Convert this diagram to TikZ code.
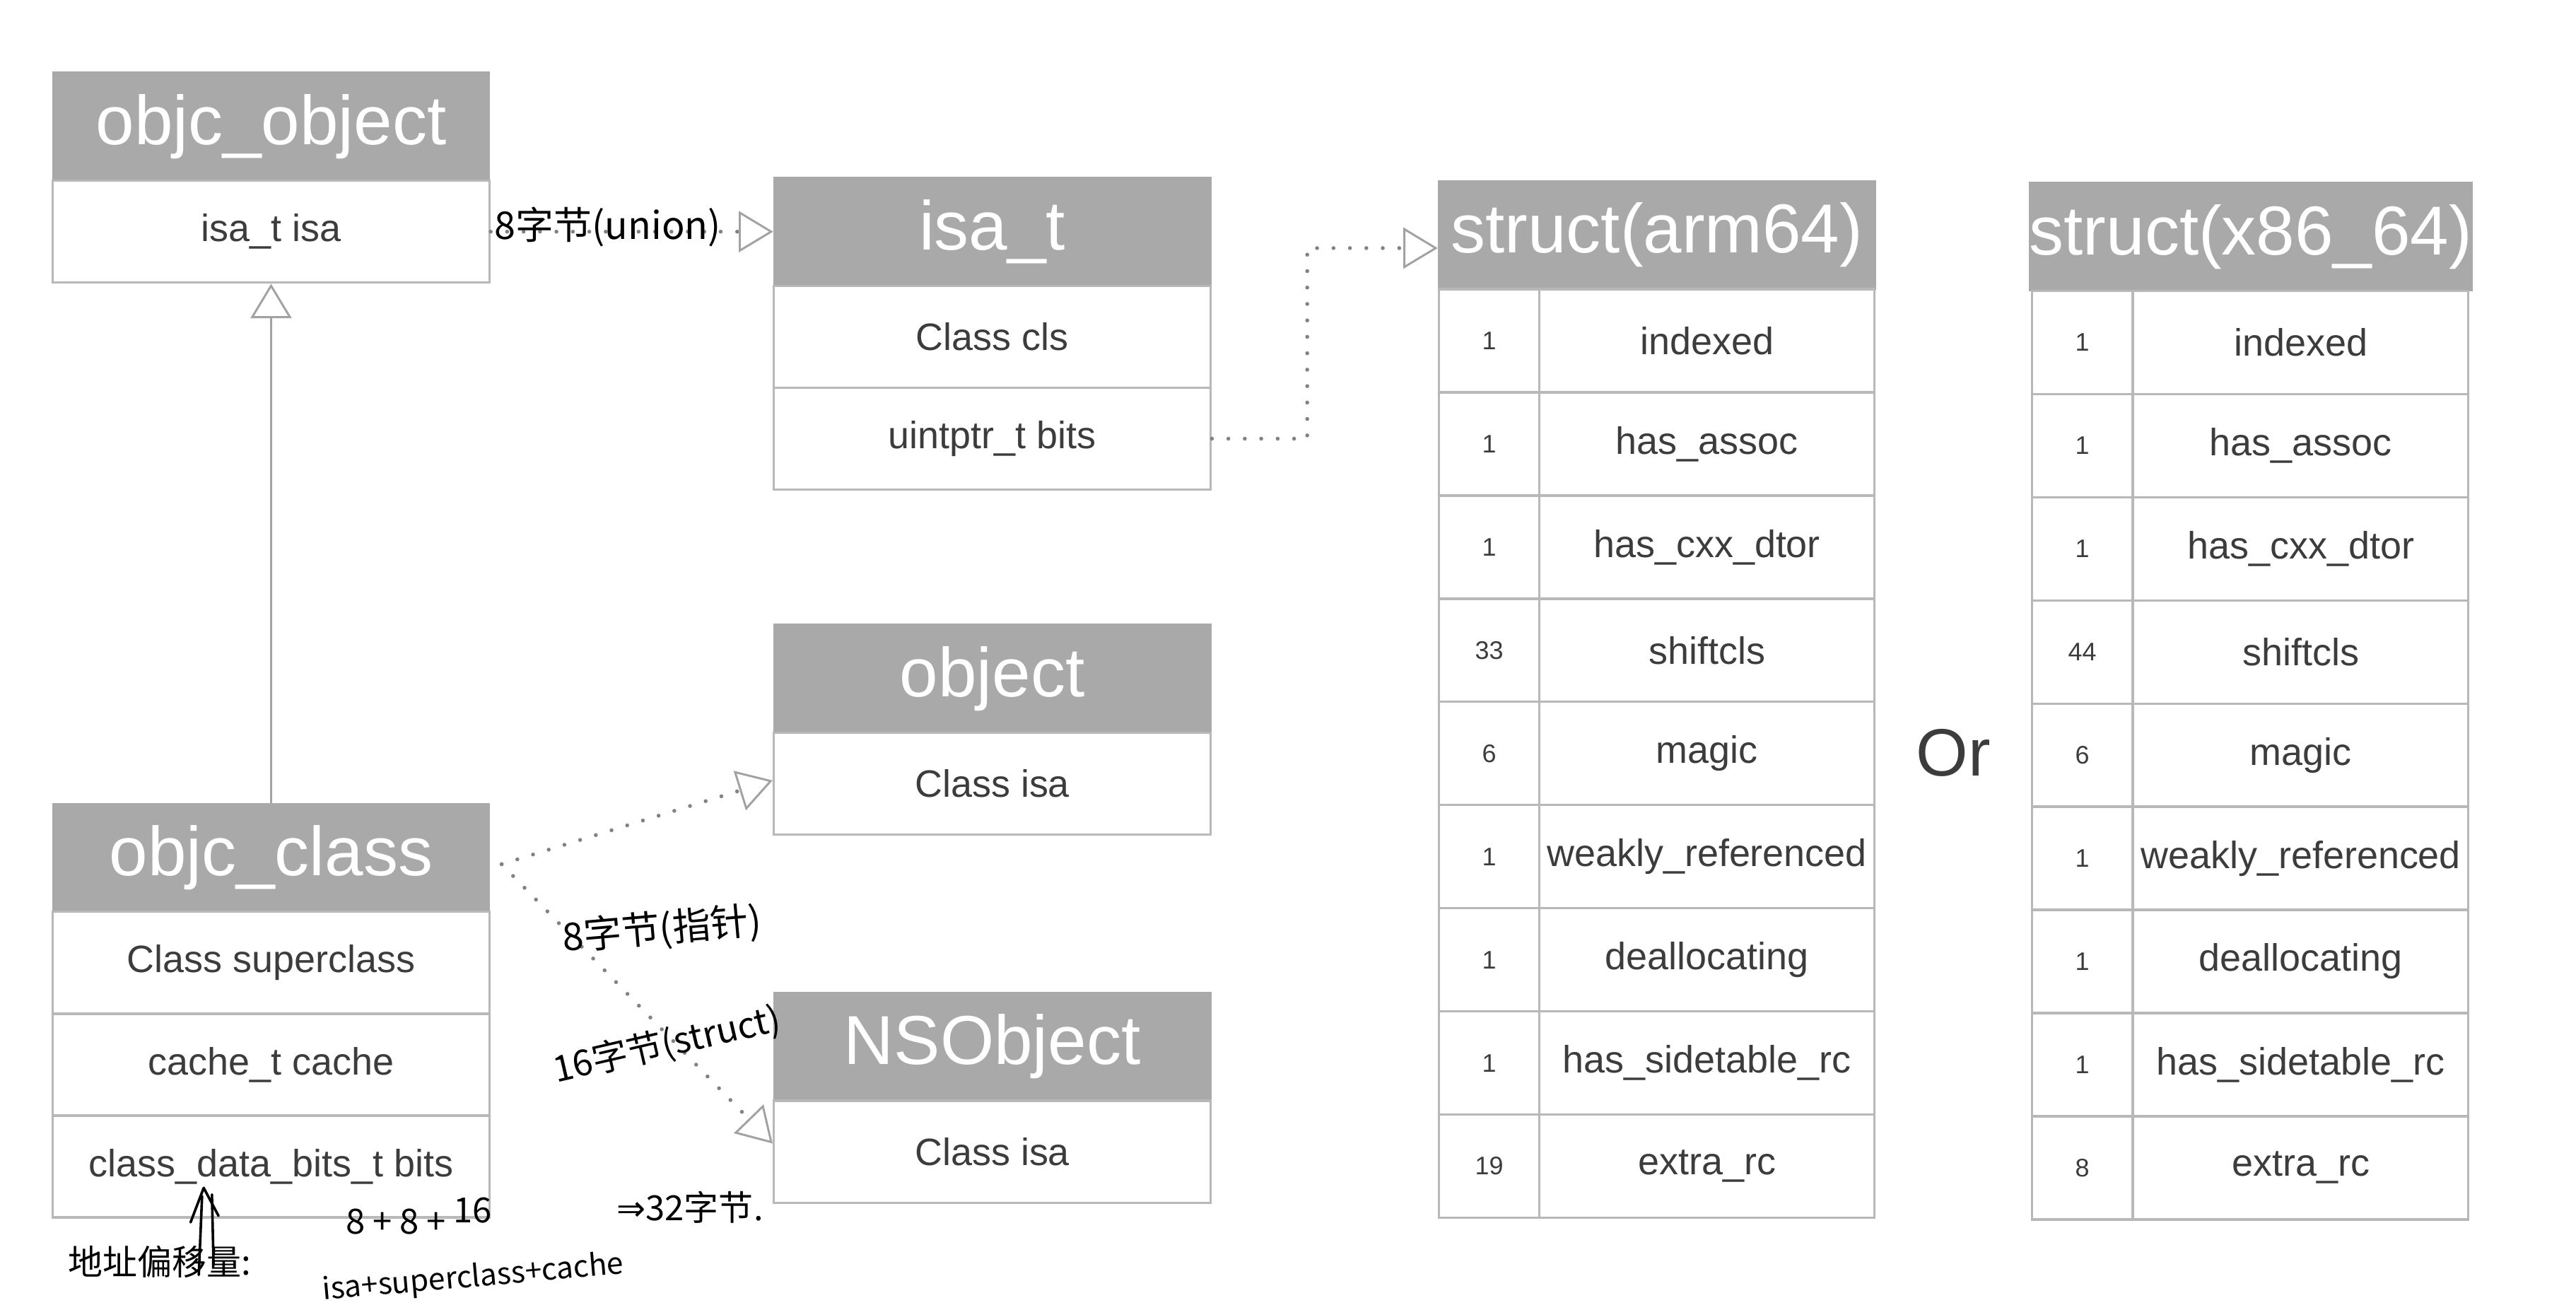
\documentclass[tikz,border=0pt]{standalone}
\usepackage{fontspec}
\setmainfont{Liberation Sans}
\newfontfamily\handfont{Noto Sans CJK SC}
\newfontfamily\dvfont{DejaVu Sans}
\usetikzlibrary{arrows.meta,calc}
\definecolor{hdrgray}{HTML}{A8A9A8}
\definecolor{boxline}{HTML}{B8B8B8}
\definecolor{txtgray}{HTML}{3C3C3C}
\definecolor{linkgray}{HTML}{808284}
\definecolor{tipgray}{HTML}{A2A2A2}
\begin{document}
\begin{tikzpicture}[x=0.05cm,y=-0.05cm,
  hdr/.style={draw=hdrgray, fill=hdrgray, text=white, minimum width=13.3cm, minimum height=3.3cm, inner sep=0pt, line width=1pt, font=\fontsize{60}{60}\selectfont},
  rowbox/.style={draw=boxline, fill=white, text=txtgray, minimum width=13.3cm, minimum height=3.1cm, inner sep=0pt, line width=2pt, font=\fontsize{33}{33}\selectfont},
  numcell/.style={rowbox, minimum width=3.05cm, minimum height=3.14cm, font=\fontsize{22}{22}\selectfont},
  namecell/.style={rowbox, minimum width=10.2cm, minimum height=3.14cm},
  hand/.style={text=black, inner sep=0pt, font=\handfont\fontsize{33}{33}\selectfont},
  opentip/.style={-{Triangle[open, length=1.05cm, width=1.25cm, line width=1.8pt, color=tipgray]}},
  dotlink/.style={draw=linkgray, line width=3.4pt, dash pattern=on 0pt off 0.5cm, line cap=round, opentip},
  solidlink/.style={draw=tipgray, line width=2pt, opentip},
  handline/.style={draw=black, line width=2.2pt, line cap=round, line join=round}
]
\useasboundingbox (0,0) rectangle (1568,797);
\fill[white] (0,0) rectangle (1568,797);

% objc_object
\node[hdr] (ooh) at (165,77) {objc\_object};
\node[rowbox] (oor) at (165,141) {isa\_t isa};

% isa_t
\node[hdr] (ith) at (604,141) {isa\_t};
\node[rowbox] (itr1) at (604,205) {Class cls};
\node[rowbox] (itr2) at (604,267) {uintptr\_t bits};

% object
\node[hdr] (obh) at (604,413) {object};
\node[rowbox] (obr) at (604,477) {Class isa};

% NSObject
\node[hdr] (nsh) at (604,637) {NSObject};
\node[rowbox] (nsr) at (604,701) {Class isa};

% objc_class
\node[hdr] (och) at (165,522) {objc\_class};
\node[rowbox] (ocr1) at (165,586) {Class superclass};
\node[rowbox] (ocr2) at (165,648) {cache\_t cache};
\node[rowbox] (ocr3) at (165,710) {class\_data\_bits\_t bits};

% struct(arm64)
\node[hdr] (ah) at (1008.5,143) {struct(arm64)};
\foreach \n/\f [count=\i] in {1/indexed,1/has\_assoc,1/has\_cxx\_dtor,33/shiftcls,6/magic,1/weakly\_referenced,1/deallocating,1/has\_sidetable\_rc,19/extra\_rc}{
  \node[numcell] (an\i) at (906.5,{176+62.8*\i-31.4}) {\n};
  \node[namecell] (af\i) at (1039,{176+62.8*\i-31.4}) {\f};
}

% struct(x86_64)
\node[hdr] (xh) at (1370,144) {struct(x86\_64)};
\foreach \n/\f [count=\i] in {1/indexed,1/has\_assoc,1/has\_cxx\_dtor,44/shiftcls,6/magic,1/weakly\_referenced,1/deallocating,1/has\_sidetable\_rc,8/extra\_rc}{
  \node[numcell] (xn\i) at (1267.5,{177+62.8*\i-31.4}) {\n};
  \node[namecell] (xf\i) at (1400.5,{177+62.8*\i-31.4}) {\f};
}

\node[text=txtgray, font=\fontsize{58}{58}\selectfont] (or) at (1189,458) {Or};

% connectors
\draw[solidlink] (och.north) -- (oor.south);
\draw[dotlink] (oor.east) -- (ith.west);
\draw[dotlink] (itr2.east) -- ++(58,0) |- ([yshift=-0.4cm]ah.west);
\coordinate (ocout) at ([xshift=0.35cm,yshift=-0.2cm]och.east);
\draw[dotlink] (ocout) -- ([yshift=0.1cm]obr.west);
\draw[dotlink] (ocout) -- ([yshift=0.25cm]nsr.west);

% handwritten notes
\node[hand] (h1) at (370,138) {8字节(union)};
\node[hand, rotate=5] (h2) at (403,566) {8字节(指针)};
\node[hand, rotate=13, font=\handfont\fontsize{31}{31}\selectfont] (h3) at (406,636) {16字节(struct)};
\node[hand, font=\handfont\fontsize{30}{30}\selectfont] (h4) at (255,740) {8 + 8 + \raisebox{0.6ex}{16}};
\node[hand, font=\handfont\fontsize{30}{30}\selectfont] (h5) at (420,735) {{\dvfont ⇒}32字节.};
\node[hand, rotate=5, font=\handfont\fontsize{26}{26}\selectfont] (h6) at (288,778) {isa+superclass+cache};
\node[hand, font=\handfont\fontsize{30}{30}\selectfont] (h7) at (97,768) {地址偏移量:};
\draw[handline] (121,776) -- (123,728);
\draw[handline] (129,727) -- (130,770);
\draw[handline] (116,744) -- (124,723) -- (133,740);
\end{tikzpicture}
\end{document}
